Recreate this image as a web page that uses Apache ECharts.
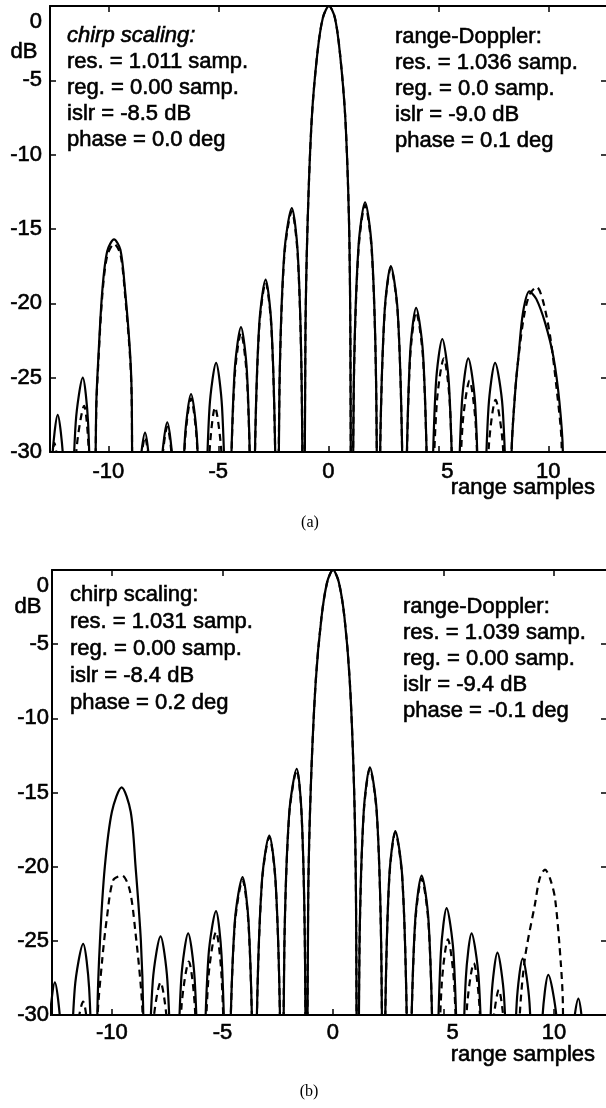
<!DOCTYPE html>
<html>
<head>
<meta charset="utf-8">
<script src="https://cdn.jsdelivr.net/npm/echarts@6.0.0/dist/echarts.min.js"></script>
<style>
html,body{margin:0;padding:0;background:#fff;}
#chart{width:606px;height:1108px;}
</style>
</head>
<body>
<div id="chart"></div>
<script>
// ---- data (range samples, dB) ----
const xTickValues = [-10, -5, 0, 5, 10];
const xTopTickValues = [-10, -5, 5, 10];
const yRightTickValues = [-5, -10, -15, -20, -25];

// panel (a): solid curve (chirp scaling)
const csA = [
[-12.8,-45],[-12.72,-39.5],[-12.55,-30.5],[-12.3,-27.5],[-12.05,-30.5],[-11.88,-39.5],[-11.8,-45],
[-11.7,-37],[-11.48,-28],[-11.16,-25],[-10.92,-28],[-10.76,-37],[-10.68,-45],
[-10.55,-27],[-10.45,-23.6],[-10.27,-19.1],[-10.05,-16.5],[-9.74,-15.7],[-9.45,-16.4],[-9.24,-19.1],[-9.0,-23.6],[-8.93,-27],[-8.88,-45],
[-8.79,-40.7],[-8.6,-31.7],[-8.33,-28.7],[-8.09,-31.7],[-7.93,-40.7],[-7.85,-45],
[-7.77,-40],[-7.59,-31],[-7.32,-28],[-7.06,-31],[-6.88,-40],[-6.8,-45],
[-6.71,-38.1],[-6.52,-29.1],[-6.24,-26.1],[-5.97,-29.1],[-5.79,-38.1],[-5.7,-45],
[-5.6,-36],[-5.4,-27],[-5.1,-24],[-4.83,-27],[-4.64,-36],[-4.55,-45],
[-4.46,-33.6],[-4.26,-24.6],[-3.97,-21.6],[-3.7,-24.6],[-3.52,-33.6],[-3.43,-45],
[-3.34,-30.4],[-3.14,-21.4],[-2.85,-18.4],[-2.59,-21.4],[-2.41,-30.4],[-2.33,-45],
[-2.22,-25.6],[-2.0,-16.6],[-1.66,-13.6],[-1.39,-16.6],[-1.21,-25.6],[-1.12,-45],
[-1.04,-22],[-0.94,-14.5],[-0.75,-7.5],[-0.5,-3.2],[-0.25,-0.8],[0.03,0],[0.3,-0.8],[0.53,-3.2],[0.77,-7.5],[0.94,-14.5],[1.0,-22],[1.06,-45],
[1.16,-25.2],[1.37,-16.2],[1.67,-13.2],[1.97,-16.2],[2.17,-25.2],[2.27,-45],
[2.36,-29.5],[2.56,-20.5],[2.84,-17.5],[3.15,-20.5],[3.35,-29.5],[3.45,-45],
[3.54,-32.3],[3.72,-23.3],[3.99,-20.3],[4.3,-23.3],[4.5,-32.3],[4.6,-45],
[4.69,-34.4],[4.89,-25.4],[5.18,-22.4],[5.48,-25.4],[5.68,-34.4],[5.78,-45],
[5.87,-35.7],[6.07,-26.7],[6.36,-23.7],[6.67,-26.7],[6.87,-35.7],[6.97,-45],
[7.07,-36],[7.28,-27],[7.58,-24],[7.92,-27],[8.14,-36],[8.25,-45],
[8.33,-30],[8.5,-25.8],[8.64,-23.6],[8.85,-20.6],[9.14,-19.2],[9.45,-19.7],[9.85,-21.3],[10.23,-23.6],[10.5,-26.6],[10.66,-30],[10.72,-45],
[12.7,-45]
];

// panel (a): dashed curve (range-Doppler)
const rdA = [
[-12.8,-45],[-12.7,-41.4],[-12.6,-32.4],[-12.45,-29.4],[-12.2,-32.4],[-11.95,-41.4],[-11.8,-45],
[-11.7,-38.9],[-11.45,-29.9],[-11.1,-26.9],[-10.89,-29.9],[-10.76,-38.9],[-10.68,-45],
[-10.55,-27.3],[-10.45,-23.9],[-10.27,-19.4],[-10.05,-16.8],[-9.74,-16.0],[-9.45,-16.7],[-9.24,-19.4],[-9.0,-23.9],[-8.93,-27.3],[-8.88,-45],
[-8.79,-41],[-8.6,-32],[-8.33,-29],[-8.09,-32],[-7.93,-41],[-7.85,-45],
[-7.77,-40.3],[-7.59,-31.3],[-7.32,-28.3],[-7.06,-31.3],[-6.88,-40.3],[-6.8,-45],
[-6.71,-38.4],[-6.52,-29.4],[-6.24,-26.4],[-5.97,-29.4],[-5.79,-38.4],[-5.7,-45],
[-5.6,-39],[-5.4,-30],[-5.15,-27],[-4.86,-30],[-4.64,-39],[-4.55,-45],
[-4.46,-34],[-4.26,-25],[-3.97,-22],[-3.7,-25],[-3.52,-34],[-3.43,-45],
[-3.34,-30.6],[-3.14,-21.6],[-2.85,-18.6],[-2.59,-21.6],[-2.41,-30.6],[-2.33,-45],
[-2.22,-25.8],[-2.0,-16.8],[-1.66,-13.8],[-1.39,-16.8],[-1.21,-25.8],[-1.12,-45],
[-1.04,-22],[-0.94,-14.5],[-0.75,-7.5],[-0.5,-3.2],[-0.25,-0.8],[0.03,0],[0.3,-0.8],[0.53,-3.2],[0.77,-7.5],[0.94,-14.5],[1.0,-22],[1.06,-45],
[1.16,-25.4],[1.37,-16.4],[1.67,-13.4],[1.97,-16.4],[2.17,-25.4],[2.27,-45],
[2.36,-29.6],[2.56,-20.6],[2.84,-17.6],[3.15,-20.6],[3.35,-29.6],[3.45,-45],
[3.54,-32.6],[3.72,-23.6],[3.99,-20.6],[4.3,-23.6],[4.5,-32.6],[4.6,-45],
[4.7,-35.7],[4.93,-26.7],[5.25,-23.7],[5.52,-26.7],[5.69,-35.7],[5.78,-45],
[5.88,-37.2],[6.1,-28.2],[6.42,-25.2],[6.7,-28.2],[6.88,-37.2],[6.97,-45],
[7.07,-38.5],[7.3,-29.5],[7.6,-26.5],[7.93,-29.5],[8.14,-38.5],[8.25,-45],
[8.33,-30],[8.5,-25.8],[8.66,-23.4],[8.9,-20.8],[9.15,-19.4],[9.47,-18.9],[9.75,-19.8],[10.08,-22.2],[10.38,-25.8],[10.6,-29.4],[10.68,-45],
[12.7,-45]
];

// panel (b): solid curve (chirp scaling)
const csB = [
[-13.1,-45],[-13.02,-39.8],[-12.84,-30.8],[-12.58,-27.8],[-12.32,-30.8],[-12.14,-39.8],[-12.05,-45],
[-11.93,-37.2],[-11.68,-28.2],[-11.3,-25.2],[-11.03,-28.2],[-10.84,-37.2],[-10.75,-45],
[-10.66,-30],[-10.54,-25],[-10.32,-20],[-10.0,-16.3],[-9.56,-14.65],[-9.15,-16.3],[-8.93,-20],[-8.69,-25],[-8.58,-30],[-8.5,-45],
[-8.39,-36.7],[-8.15,-27.7],[-7.8,-24.7],[-7.49,-27.7],[-7.27,-36.7],[-7.17,-45],
[-7.07,-36.5],[-6.86,-27.5],[-6.55,-24.5],[-6.26,-27.5],[-6.06,-36.5],[-5.97,-45],
[-5.86,-35],[-5.63,-26],[-5.29,-23],[-5.04,-26],[-4.86,-35],[-4.78,-45],
[-4.67,-32.7],[-4.44,-23.7],[-4.09,-20.7],[-3.82,-23.7],[-3.63,-32.7],[-3.54,-45],
[-3.44,-29.9],[-3.21,-20.9],[-2.88,-17.9],[-2.6,-20.9],[-2.4,-29.9],[-2.31,-45],
[-2.2,-25.4],[-1.98,-16.4],[-1.64,-13.4],[-1.42,-16.4],[-1.27,-25.4],[-1.2,-45],
[-1.12,-22],[-1.0,-14.5],[-0.78,-7.5],[-0.52,-3.2],[-0.26,-0.8],[0,0],[0.26,-0.8],[0.52,-3.2],[0.76,-7.5],[0.95,-14.5],[1.04,-22],[1.11,-45],
[1.2,-25.3],[1.39,-16.3],[1.67,-13.3],[1.98,-16.3],[2.18,-25.3],[2.28,-45],
[2.37,-29.6],[2.55,-20.6],[2.82,-17.6],[3.13,-20.6],[3.33,-29.6],[3.43,-45],
[3.52,-32.6],[3.72,-23.6],[4.01,-20.6],[4.32,-23.6],[4.52,-32.6],[4.62,-45],
[4.7,-34.8],[4.88,-25.8],[5.14,-22.8],[5.45,-25.8],[5.65,-34.8],[5.75,-45],
[5.83,-36.5],[6.01,-27.5],[6.27,-24.5],[6.59,-27.5],[6.8,-36.5],[6.9,-45],
[6.99,-37.8],[7.17,-28.8],[7.44,-25.8],[7.74,-28.8],[7.94,-37.8],[8.04,-45],
[8.13,-38.2],[8.31,-29.2],[8.58,-26.2],[8.89,-29.2],[9.1,-38.2],[9.2,-45],
[9.29,-39.3],[9.47,-30.3],[9.74,-27.3],[10.12,-30.3],[10.38,-39.3],[10.5,-45],
[10.6,-40.9],[10.8,-31.9],[11.1,-28.9],[11.35,-31.9],[11.52,-40.9],[11.6,-45],
[12.5,-45]
];

// panel (b): dashed curve (range-Doppler)
const rdB = [
[-13.1,-45],[-12.84,-34],[-12.58,-31],[-12.32,-34],[-12.05,-45],
[-11.93,-41.1],[-11.68,-32.1],[-11.3,-29.1],[-11.03,-32.1],[-10.84,-41.1],[-10.75,-45],
[-10.66,-30.5],[-10.44,-26.3],[-10.24,-23.6],[-9.94,-20.9],[-9.54,-20.6],[-9.19,-21.6],[-8.93,-24.5],[-8.69,-28.1],[-8.6,-30.5],[-8.5,-45],
[-8.39,-39.8],[-8.15,-30.8],[-7.8,-27.8],[-7.49,-30.8],[-7.27,-39.8],[-7.17,-45],
[-7.07,-38.4],[-6.85,-29.4],[-6.52,-26.4],[-6.25,-29.4],[-6.06,-38.4],[-5.97,-45],
[-5.86,-36.4],[-5.63,-27.4],[-5.29,-24.4],[-5.04,-27.4],[-4.86,-36.4],[-4.78,-45],
[-4.67,-32.9],[-4.44,-23.9],[-4.09,-20.9],[-3.82,-23.9],[-3.63,-32.9],[-3.54,-45],
[-3.44,-30],[-3.21,-21],[-2.88,-18],[-2.6,-21],[-2.4,-30],[-2.31,-45],
[-2.2,-25.5],[-1.98,-16.5],[-1.64,-13.5],[-1.42,-16.5],[-1.27,-25.5],[-1.2,-45],
[-1.12,-22],[-1.0,-14.5],[-0.78,-7.5],[-0.52,-3.2],[-0.26,-0.8],[0,0],[0.26,-0.8],[0.52,-3.2],[0.76,-7.5],[0.95,-14.5],[1.04,-22],[1.11,-45],
[1.2,-25.4],[1.39,-16.4],[1.67,-13.4],[1.98,-16.4],[2.18,-25.4],[2.28,-45],
[2.37,-29.7],[2.55,-20.7],[2.82,-17.7],[3.13,-20.7],[3.33,-29.7],[3.43,-45],
[3.52,-32.8],[3.72,-23.8],[4.01,-20.8],[4.32,-23.8],[4.52,-32.8],[4.62,-45],
[4.72,-36.9],[4.92,-27.9],[5.2,-24.9],[5.48,-27.9],[5.66,-36.9],[5.75,-45],
[5.85,-38.5],[6.06,-29.5],[6.37,-26.5],[6.63,-29.5],[6.81,-38.5],[6.9,-45],
[7.0,-40.3],[7.2,-31.3],[7.5,-28.3],[7.77,-31.3],[7.95,-40.3],[8.04,-45],
[8.45,-30],[8.69,-26.1],[9.14,-22.5],[9.35,-20.8],[9.59,-20.2],[9.82,-20.8],[10.05,-22.2],[10.31,-26.6],[10.4,-29.3],[10.48,-45],
[12.5,-45]
];

const statsA = {
  left: ['chirp scaling:', 'res. = 1.011 samp.', 'reg. = 0.00 samp.', 'islr = -8.5 dB', 'phase = 0.0 deg'],
  right: ['range-Doppler:', 'res. = 1.036 samp.', 'reg. = 0.0 samp.', 'islr = -9.0 dB', 'phase = 0.1 deg']
};
const statsB = {
  left: ['chirp scaling:', 'res. = 1.031 samp.', 'reg. = 0.00 samp.', 'islr = -8.4 dB', 'phase = 0.2 deg'],
  right: ['range-Doppler:', 'res. = 1.039 samp.', 'reg. = 0.00 samp.', 'islr = -9.4 dB', 'phase = -0.1 deg']
};

// ---- chart ----
const FONT = '"Liberation Sans", Arial, Helvetica, sans-serif';
const INK = {textBorderColor: '#000', textBorderWidth: 0.6};
const chart = echarts.init(document.getElementById('chart'), null, {renderer: 'canvas'});

function xAxes(grid, min, max, labelMargin) {
  return [
    {
      gridIndex: grid, type: 'value', position: 'bottom', min: min, max: max,
      axisLine: {show: true, onZero: false, lineStyle: {color: '#000', width: 2}},
      axisTick: {show: true, inside: true, length: 6, customValues: xTickValues, lineStyle: {color: '#000', width: 1.5}},
      axisLabel: Object.assign({
        show: true, customValues: xTickValues, margin: labelMargin, color: '#000', fontSize: 22, fontFamily: FONT,
        formatter: function (v) { return v === 5 ? '{s|5}' : String(v); },
        rich: {s: Object.assign({padding: [0, 0, 0, 18], fontSize: 22, fontFamily: FONT, color: '#000'}, INK)}
      }, INK),
      splitLine: {show: false}
    },
    {
      gridIndex: grid, type: 'value', position: 'top', min: min, max: max,
      axisLine: {show: true, onZero: false, lineStyle: {color: '#000', width: 2}},
      axisTick: {show: true, inside: true, length: 6, customValues: xTopTickValues, lineStyle: {color: '#000', width: 1.5}},
      axisLabel: {show: false},
      splitLine: {show: false}
    }
  ];
}

function yAxes(grid, labelMargin) {
  return [
    {
      gridIndex: grid, type: 'value', position: 'left', min: -30, max: 0, interval: 5,
      axisLine: {show: true, onZero: false, lineStyle: {color: '#000', width: 2}},
      axisTick: {show: true, inside: true, length: 6, lineStyle: {color: '#000', width: 1.5}},
      axisLabel: Object.assign({
        show: true, margin: labelMargin, color: '#000', fontSize: 22, fontFamily: FONT,
        formatter: function (v) { return v === 0 ? '{z|0}' : String(v); },
        rich: {z: Object.assign({padding: [31, 0, 0, 0], fontSize: 22, fontFamily: FONT, color: '#000'}, INK)}
      }, INK),
      splitLine: {show: false}
    },
    {
      gridIndex: grid, type: 'value', position: 'right', min: -30, max: 0, interval: 5,
      axisLine: {show: false, onZero: false},
      axisTick: {show: true, inside: true, length: 5, customValues: yRightTickValues, lineStyle: {color: '#000', width: 1.5}},
      axisLabel: {show: false},
      splitLine: {show: false}
    }
  ];
}

function lineSeries(name, data, xi, yi, dashed) {
  return {
    name: name, type: 'line', xAxisIndex: xi, yAxisIndex: yi, data: data,
    showSymbol: false, symbol: 'none', smooth: 0.3, clip: true, silent: true,
    lineStyle: {color: '#000', width: 2.2, type: dashed ? [7, 5] : 'solid'},
    z: dashed ? 2 : 3
  };
}

function textBlock(lines, x, y, lh, italicFirst) {
  const first = italicFirst ? '{i|' + lines[0] + '}' : lines[0];
  return {
    type: 'text', x: x, y: y, silent: true,
    style: Object.assign({
      text: [first].concat(lines.slice(1)).join('\n'),
      fill: '#000', fontSize: 22, fontFamily: FONT, lineHeight: lh,
      align: 'left', verticalAlign: 'top',
      stroke: '#000', lineWidth: 0.6,
      rich: {i: {fontStyle: 'italic', fontSize: 22, fontFamily: FONT, lineHeight: lh, fill: '#000', stroke: '#000', lineWidth: 0.6}}
    })
  };
}

function label(text, x, y, opts) {
  return {
    type: 'text', x: x, y: y, silent: true,
    style: Object.assign({text: text, fill: '#000', fontSize: 22, fontFamily: FONT, align: 'center', verticalAlign: 'middle', stroke: '#000', lineWidth: 0.6}, opts || {})
  };
}

const SERIF = '"Liberation Serif", "Times New Roman", serif';
const option = {
  animation: false,
  backgroundColor: '#ffffff',
  grid: [
    {left: 50, top: 6, width: 556, height: 446, containLabel: false, outerBoundsMode: 'none'},
    {left: 52, top: 570, width: 554, height: 445, containLabel: false, outerBoundsMode: 'none'}
  ],
  xAxis: xAxes(0, -12.65, 12.62, 9).concat(xAxes(1, -12.71, 12.35, 7)),
  yAxis: yAxes(0, 8).concat(yAxes(1, 3)),
  series: [
    lineSeries('range-Doppler (a)', rdA, 0, 0, true),
    lineSeries('chirp scaling (a)', csA, 0, 0, false),
    lineSeries('range-Doppler (b)', rdB, 2, 2, true),
    lineSeries('chirp scaling (b)', csB, 2, 2, false)
  ],
  graphic: [
    textBlock(statsA.left, 67, 23, 26, true),
    textBlock(statsA.right, 395, 24, 26, false),
    textBlock(statsB.left, 70, 581, 27, false),
    textBlock(statsB.right, 403, 594, 26, false),
    label('dB', 24, 52),
    label('dB', 28, 607),
    label('range samples', 595, 488, {align: 'right'}),
    label('range samples', 595, 1055, {align: 'right'}),
    label('(a)', 310, 523, {fontSize: 16, fontFamily: SERIF, lineWidth: 0}),
    label('(b)', 309, 1092, {fontSize: 16, fontFamily: SERIF, lineWidth: 0})
  ]
};
chart.setOption(option);
</script>
</body>
</html>
